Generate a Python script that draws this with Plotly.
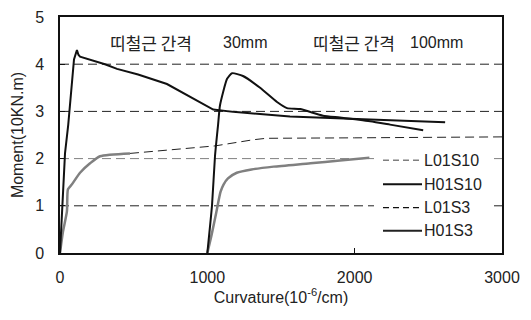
import plotly.graph_objects as go

# Moment-curvature curves (curvature in 10^-6/cm, moment in 10 kN.m)
l01s10_x = [0, 20, 47, 54, 80, 136, 204, 272, 475]
l01s10_y = [0, 0.45, 0.88, 1.35, 1.45, 1.70, 1.90, 2.05, 2.11]
l01s10_tail_x = [475, 884, 1054, 1313, 1400, 2000, 3000]
l01s10_tail_y = [2.11, 2.23, 2.27, 2.40, 2.43, 2.44, 2.46]

h01s10_x = [0, 20, 34, 56, 68, 95, 115, 125, 136, 305, 387, 530, 726, 800, 883, 950, 1040, 1175, 1561, 2105, 2614]
h01s10_y = [0, 1.24, 2.11, 2.72, 3.2, 4.1, 4.30, 4.20, 4.16, 4.0, 3.9, 3.78, 3.58, 3.45, 3.30, 3.18, 3.04, 2.99, 2.89, 2.83, 2.77]

l01s3_x = [1000, 1030, 1060, 1090, 1110, 1140, 1200, 1300, 1450, 1700, 1900, 2100]
l01s3_y = [0, 0.4, 0.85, 1.3, 1.45, 1.58, 1.70, 1.77, 1.83, 1.90, 1.96, 2.02]

h01s3_x = [1000, 1032, 1052, 1073, 1086, 1134, 1168, 1242, 1358, 1473, 1541, 1630, 1785, 1900, 2105, 2240, 2465]
h01s3_y = [0, 1.02, 2.05, 2.72, 3.13, 3.69, 3.81, 3.75, 3.5, 3.2, 3.07, 3.05, 2.91, 2.87, 2.79, 2.72, 2.60]

series_names = ["L01S10", "H01S10", "L01S3", "H01S3"]
grid_levels = [1, 2, 3, 4]
x_ticks = [0, 1000, 2000, 3000]
y_ticks = [0, 1, 2, 3, 4, 5]

GRAY = "#808080"
BLACK = "#111111"
TXT = "#222222"
FONT = "Liberation Sans, Arial, Noto Sans CJK KR, sans-serif"
KFONT = "Noto Sans CJK KR, sans-serif"

# plot-area geometry in pixels (for placing layout items)
W, H = 531, 320
L, R, T, B = 60, 29, 9, 67
PW, PH = W - L - R, H - T - B


def px(xp):
    return (xp - L) / PW


def py(yp):
    return (H - B - yp) / PH


fig = go.Figure()

fig.add_trace(go.Scatter(x=l01s10_x, y=l01s10_y, mode="lines",
                         line=dict(color=GRAY, width=2.5, shape="spline", smoothing=0.6),
                         showlegend=False))
fig.add_trace(go.Scatter(x=l01s10_tail_x, y=l01s10_tail_y, mode="lines",
                         line=dict(color="#222222", width=1, dash="9px,5px"),
                         showlegend=False))
fig.add_trace(go.Scatter(x=h01s10_x, y=h01s10_y, mode="lines",
                         line=dict(color=BLACK, width=2),
                         showlegend=False))
fig.add_trace(go.Scatter(x=l01s3_x, y=l01s3_y, mode="lines",
                         line=dict(color=GRAY, width=2.5, shape="spline", smoothing=0.6),
                         showlegend=False))
fig.add_trace(go.Scatter(x=h01s3_x, y=h01s3_y, mode="lines",
                         line=dict(color=BLACK, width=2, shape="spline", smoothing=0.5),
                         showlegend=False))

shapes = []
# dashed horizontal gridlines
for g in grid_levels:
    shapes.append(dict(type="line", xref="paper", yref="y", x0=0, x1=1, y0=g, y1=g,
                       line=dict(color=GRAY if g == 2 else "#222222", width=1, dash="9px,5px"),
                       layer="below"))

# legend box
shapes.append(dict(type="rect", xref="paper", yref="paper",
                   x0=px(374), x1=px(491), y0=py(242), y1=py(146),
                   fillcolor="white", line=dict(width=0), layer="above"))
legend_rows = [157, 182, 206, 230]
legend_styles = [
    dict(color=GRAY, width=1.5, dash="6px,4px"),
    dict(color=BLACK, width=2),
    dict(color=BLACK, width=1.2, dash="6px,4px"),
    dict(color="#222222", width=2),
]
annotations = []
for name, row, st in zip(series_names, legend_rows, legend_styles):
    shapes.append(dict(type="line", xref="paper", yref="paper",
                       x0=px(383), x1=px(422), y0=py(row), y1=py(row),
                       line=st, layer="above"))
    annotations.append(dict(text=name, xref="paper", yref="paper", x=px(422), y=py(row),
                            xanchor="left", yanchor="middle", showarrow=False,
                            font=dict(family=FONT, size=16, color=TXT)))

annotations += [
    dict(text="띠철근 간격", xref="paper", yref="paper", x=px(151), y=py(35),
         xanchor="center", yanchor="middle", showarrow=False,
         font=dict(family=KFONT, size=17, color=TXT)),
    dict(text="30mm", xref="paper", yref="paper", x=px(245), y=py(35),
         xanchor="center", yanchor="middle", showarrow=False,
         font=dict(family=FONT, size=16, color=TXT)),
    dict(text="띠철근 간격", xref="paper", yref="paper", x=px(354), y=py(35),
         xanchor="center", yanchor="middle", showarrow=False,
         font=dict(family=KFONT, size=17, color=TXT)),
    dict(text="100mm", xref="paper", yref="paper", x=px(436), y=py(35),
         xanchor="center", yanchor="middle", showarrow=False,
         font=dict(family=FONT, size=16, color=TXT)),
]

fig.update_layout(
    width=W, height=H,
    margin=dict(l=L, r=R, t=T, b=B),
    paper_bgcolor="white", plot_bgcolor="white",
    showlegend=False,
    shapes=shapes,
    annotations=annotations,
    font=dict(family=FONT, size=16, color=TXT),
)

fig.update_xaxes(range=[0, 3000], tickvals=x_ticks, showgrid=False, zeroline=False,
                 showline=True, linecolor="#111111", linewidth=1.5, mirror=True,
                 ticks="inside", ticklen=5, tickcolor="#111111",
                 ticklabelstandoff=9, tickfont=dict(size=16),
                 title=dict(text="Curvature(10<sup>-6</sup>/cm)", standoff=6,
                            font=dict(size=16)))
fig.update_yaxes(range=[0, 5], tickvals=y_ticks, showgrid=False, zeroline=False,
                 showline=True, linecolor="#111111", linewidth=1.5, mirror=True,
                 ticks="inside", ticklen=5, tickcolor="#111111",
                 ticklabelstandoff=11, tickfont=dict(size=16),
                 title=dict(text="Moment(10KN.m)", standoff=8, font=dict(size=16)))

fig.write_html("out.html")
